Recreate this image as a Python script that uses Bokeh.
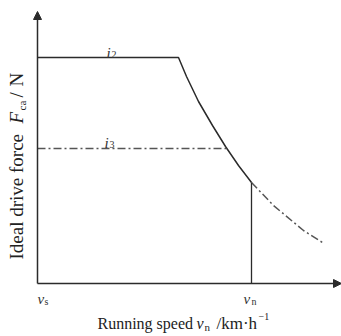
import math
from bokeh.plotting import figure
from bokeh.models import Arrow, NormalHead
from bokeh.core.properties import value
from bokeh.embed import file_html
from bokeh.resources import INLINE

# ---- data (schematic units) ----
speed_curve = [0, 141, 149, 161, 175, 188, 201, 214]
force_curve = [226, 226, 207, 182, 158, 137, 118, 101]
speed_ext = [214, 236, 266, 285]
force_ext = [101, 78, 53, 41]
speed_i3 = [0, 189]
force_i3 = [135, 135]
v_n = 214
gear_labels = ["i", "i"]
gear_subs = ["2", "3"]

FONT = value("Liberation Serif")
INK = "#2b2b2b"


def X(px):
    return px - 37


def Y(py):
    return 283 - py


p = figure(width=341, height=336, x_range=(-37, 304), y_range=(-53, 283),
           min_border=0, toolbar_location=None, output_backend="svg",
           x_axis_type=None, y_axis_type=None)
p.grid.visible = False
p.outline_line_color = None

# curves
p.line(speed_curve, force_curve, line_color=INK, line_width=1.5)
p.line(speed_ext, force_ext, line_color="#555555", line_width=1.5, line_dash="8 3 2 3")
p.line(speed_i3, force_i3, line_color="#555555", line_width=1.5, line_dash="8 3 2 3")
p.line([v_n, v_n], [0, force_curve[-1]], line_color=INK, line_width=1.3)

# axes with arrows
head = dict(size=8, fill_color=INK, line_color=INK)
p.add_layout(Arrow(end=NormalHead(**head), x_start=0, y_start=0, x_end=X(341), y_end=0,
                   line_color=INK, line_width=1.5))
p.add_layout(Arrow(end=NormalHead(**head), x_start=0, y_start=0, x_end=0, y_end=Y(11),
                   line_color=INK, line_width=1.5))

# gear labels
p.text(x=[X(106), X(104)], y=[Y(52), Y(142)], text=gear_labels, text_font=FONT,
       text_font_size="15px", text_font_style="italic", text_color="#333333",
       text_baseline="alphabetic")
p.text(x=[X(111), X(109)], y=[Y(54), Y(144)], text=gear_subs, text_font=FONT,
       text_font_size="10px", text_color="#333333", text_baseline="alphabetic")

# tick labels v_s, v_n
p.text(x=[X(37), X(243)], y=[Y(298), Y(298)], text=["v", "v"], text_font=FONT,
       text_font_size="15px", text_font_style="italic", text_color="#333333",
       text_baseline="alphabetic")
p.text(x=[X(44), X(251)], y=[Y(301), Y(301)], text=["s", "n"], text_font=FONT,
       text_font_size="10px", text_color="#333333", text_baseline="alphabetic")

# x axis title
TS = "16px"
p.text(x=[X(97)], y=[Y(323)], text=["Running speed"], text_font=FONT,
       text_font_size=TS, text_color="#222222", text_baseline="alphabetic")
p.text(x=[X(196)], y=[Y(323)], text=["v"], text_font=FONT, text_font_size=TS,
       text_font_style="italic", text_color="#222222", text_baseline="alphabetic")
p.text(x=[X(204)], y=[Y(326)], text=["n"], text_font=FONT, text_font_size="11px",
       text_color="#222222", text_baseline="alphabetic")
p.text(x=[X(216)], y=[Y(323)], text=["/km\u00b7h"], text_font=FONT, text_font_size="17px",
       text_color="#222222", text_baseline="alphabetic")
p.text(x=[X(258)], y=[Y(316)], text=["\u22121"], text_font=FONT, text_font_size="10px",
       text_color="#222222", text_baseline="alphabetic")

# y axis title (rotated)
ang = math.pi / 2
YS = "19px"
CX = 16
p.text(x=[X(CX)], y=[Y(259)], text=["Ideal drive force"], text_font=FONT,
       text_font_size=YS, text_color="#222222", text_baseline="middle", angle=ang)
p.text(x=[X(CX)], y=[Y(123)], text=["F"], text_font=FONT, text_font_size=YS,
       text_font_style="italic", text_color="#222222", text_baseline="middle", angle=ang)
p.text(x=[X(CX + 5)], y=[Y(110)], text=["ca"], text_font=FONT, text_font_size="11px",
       text_color="#222222", text_baseline="middle", angle=ang)
p.text(x=[X(CX)], y=[Y(97)], text=["/"], text_font=FONT, text_font_size=YS,
       text_color="#222222", text_baseline="middle", angle=ang)
p.text(x=[X(CX)], y=[Y(86)], text=["N"], text_font=FONT, text_font_size=YS,
       text_color="#222222", text_baseline="middle", angle=ang)

open("out.html", "w").write(file_html(p, INLINE))
